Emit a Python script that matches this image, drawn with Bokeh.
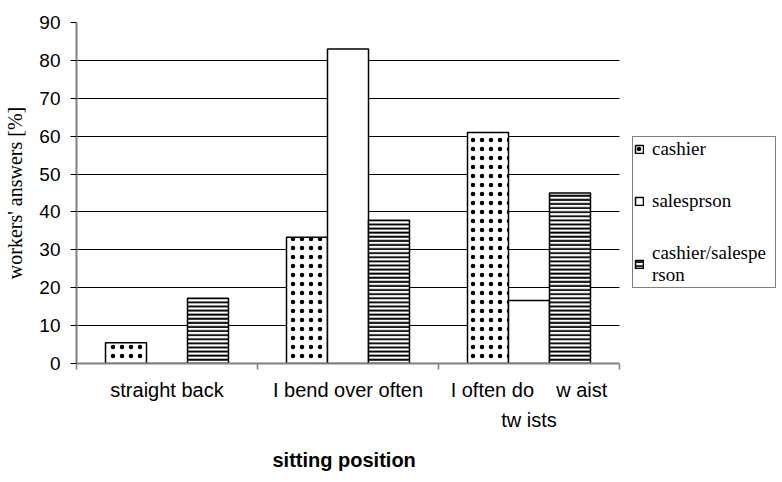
from bokeh.plotting import figure
from bokeh.models import FixedTicker, Range1d, Legend, LegendItem, ColumnDataSource, Title
from bokeh.transform import dodge
from bokeh.embed import file_html
from bokeh.resources import INLINE
import numpy as np

# Answers of shop workers about their sitting position [%]
NB = "\u00a0"
categories = ["straight back", "I bend over often",
              "I often do" + NB * 4 + "w aist\ntw ists"]
series_names = ["cashier", "salesprson", "cashier/salespe\nrson"]
cashier = [5.5, 33.3, 61.0]
salesperson = [0.0, 83.0, 16.6]
cashier_salesperson = [17.2, 37.8, 45.0]
y_ticks = [0, 10, 20, 30, 40, 50, 60, 70, 80, 90]
x_title = "sitting position"

n = len(categories)
centers = np.arange(n) + 0.5
bar_w = 0.2265

src = ColumnDataSource(dict(
    x=centers,
    cashier=cashier,
    salesperson=salesperson,
    both=cashier_salesperson,
))

W, H = 782, 482
left, right_px, top, bottom = 76, 619, 22, 363
# the frame runs to the right edge so the legend can sit beside the bars;
# grid and axis are bounded to the category span
x_end = n * (W - left) / (right_px - left)

p = figure(width=W, height=H, x_range=Range1d(0, x_end), y_range=Range1d(0, 90),
           output_backend="svg", toolbar_location=None,
           min_border_left=left, min_border_right=0, min_border_top=top,
           min_border_bottom=H - bottom)
p.outline_line_color = None
p.background_fill_color = "white"
p.border_fill_color = "white"

r1 = p.vbar(x=dodge("x", -bar_w, range=p.x_range), top="cashier", width=bar_w, source=src,
            fill_color="white", line_color="black", line_width=1.5,
            hatch_pattern="dot", hatch_color="black", hatch_scale=9, hatch_weight=1.3)
r2 = p.vbar(x=dodge("x", 0, range=p.x_range), top="salesperson", width=bar_w, source=src,
            fill_color="white", line_color="black", line_width=1.5)
r3 = p.vbar(x=dodge("x", bar_w, range=p.x_range), top="both", width=bar_w, source=src,
            fill_color="white", line_color="black", line_width=1.5,
            hatch_pattern="horizontal_line", hatch_color="black", hatch_scale=4.1, hatch_weight=1.9)

# grid
p.xgrid.visible = False
p.ygrid.ticker = FixedTicker(ticks=y_ticks)
p.ygrid.grid_line_color = "black"
p.ygrid.grid_line_width = 1
p.ygrid.cross_bounds = (0, n)

# y axis
ya = p.yaxis[0]
ya.ticker = FixedTicker(ticks=y_ticks)
ya.axis_line_color = "#808080"
ya.axis_line_width = 2
ya.major_tick_in = 0
ya.major_tick_out = 6
ya.major_tick_line_color = "black"
ya.minor_tick_line_color = None
ya.major_label_text_font = "Liberation Sans"
ya.major_label_text_font_size = "19px"
ya.major_label_text_color = "black"
ya.major_label_standoff = 10
ya.axis_label = "workers' answers [%]"
ya.axis_label_text_font = "Liberation Serif"
ya.axis_label_text_font_style = "normal"
ya.axis_label_text_font_size = "20px"
ya.axis_label_text_color = "black"
ya.axis_label_standoff = 10

# x axis: labels at group centers, ticks at group boundaries
xa = p.xaxis[0]
xa.bounds = (0, n)
xa.ticker = FixedTicker(ticks=list(centers), minor_ticks=list(range(n + 1)))
xa.major_label_overrides = {float(c): lab for c, lab in zip(centers, categories)}
xa.axis_line_color = "#808080"
xa.axis_line_width = 2
xa.major_tick_in = 0
xa.major_tick_out = 0
xa.minor_tick_in = 0
xa.minor_tick_out = 6
xa.minor_tick_line_color = "#808080"
xa.minor_tick_line_width = 1.5
xa.major_label_text_font = "Liberation Sans"
xa.major_label_text_font_size = "20px"
xa.major_label_text_color = "black"
xa.major_label_text_line_height = 1.4
xa.major_label_standoff = 9

# x title, centred under the category span
title_w = 151
xt = Title(text=x_title, align="left", offset=(right_px - left) / 2 - title_w / 2,
           text_font="Liberation Sans", text_font_style="bold", text_font_size="20px",
           text_color="black", text_line_height=0.7, standoff=24)
p.add_layout(xt, "below")

legend = Legend(items=[
    LegendItem(label=series_names[0], renderers=[r1]),
    LegendItem(label=series_names[1], renderers=[r2]),
    LegendItem(label=series_names[2], renderers=[r3]),
], location=(632 - left, bottom - 288))
legend.label_text_font = "Liberation Serif"
legend.label_text_font_size = "19px"
legend.label_text_color = "black"
legend.label_text_line_height = 1.1
legend.glyph_width = 10
legend.glyph_height = 10
legend.label_standoff = 8
legend.label_height = 16
legend.label_width = 122
legend.padding = 1
legend.spacing = 30
legend.margin = 0
legend.border_line_color = "black"
legend.border_line_width = 1
legend.background_fill_color = "white"
legend.background_fill_alpha = 1
p.add_layout(legend)

open("out.html", "w").write(file_html(p, INLINE))
